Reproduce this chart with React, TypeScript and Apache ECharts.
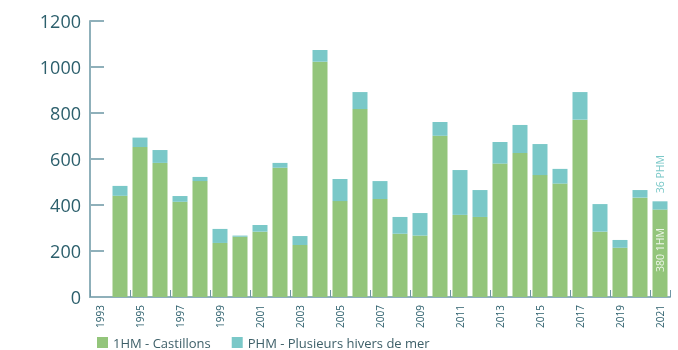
import React, { useEffect, useRef } from "react";
import * as echarts from "echarts";

const years = [
  "1993", "1994", "1995", "1996", "1997", "1998", "1999", "2000", "2001", "2002",
  "2003", "2004", "2005", "2006", "2007", "2008", "2009", "2010", "2011", "2012",
  "2013", "2014", "2015", "2016", "2017", "2018", "2019", "2020", "2021",
];
const hm1 = [
  null, 440, 652, 583, 414, 504, 235, 262, 284, 562,
  226, 1023, 417, 817, 426, 275, 267, 701, 357, 348,
  580, 626, 530, 493, 771, 284, 214, 432, 380,
];
const phm = [
  null, 43, 41, 56, 25, 18, 61, 5, 29, 21,
  39, 51, 96, 74, 78, 73, 98, 60, 195, 117,
  94, 122, 135, 64, 120, 120, 34, 33, 36,
];
const yTicks = [0, 200, 400, 600, 800, 1000, 1200];
const legendNames = ["1HM - Castillons", "PHM - Plusieurs hivers de mer"];

const GREEN = "#93c57b";
const TEAL = "#7ac8c8";
const AXIS = "#8fb0ba";
const TEXT = "#2c5f6c";
const FONT = "Open Sans";

export default function App() {
  const ref = useRef<HTMLDivElement>(null);
  useEffect(() => {
    if (!ref.current) return;
    const chart = echarts.init(ref.current, undefined, { renderer: "svg" });
    const last = years.length - 1;
    const hmData = hm1.map((v, i) =>
      i === last
        ? {
            value: v,
            label: {
              show: true,
              formatter: `${v} 1HM`,
              position: "insideBottom",
              rotate: 90,
              align: "left",
              verticalAlign: "middle",
              distance: 25,
              color: "#eef6e8",
              fontSize: 10.5,
              fontFamily: FONT,
            },
          }
        : v
    );
    const phmData = phm.map((v, i) =>
      i === last
        ? {
            value: v,
            label: {
              show: true,
              formatter: `${v} PHM`,
              position: "top",
              rotate: 90,
              align: "left",
              verticalAlign: "middle",
              distance: 8,
              color: TEAL,
              fontSize: 10.5,
              fontFamily: FONT,
            },
          }
        : v
    );
    chart.setOption({
      animation: false,
      grid: { left: 90, right: 8, top: 21, bottom: 53, containLabel: false },
      legend: {
        left: 97,
        top: 336,
        itemWidth: 11,
        itemHeight: 11,
        itemGap: 21,
        icon: "rect",
        padding: 0,
        textStyle: {
          color: "#3d5f68",
          fontSize: 13,
          lineHeight: 12,
          fontFamily: FONT,
        },
        data: legendNames,
      },
      xAxis: {
        type: "category",
        data: years,
        axisLine: { lineStyle: { color: AXIS, width: 2 } },
        axisTick: {
          show: true,
          inside: true,
          length: 7,
          alignWithLabel: false,
          lineStyle: { color: "#6f97a6", width: 1 },
        },
        axisLabel: {
          interval: 1,
          rotate: 90,
          margin: 8,
          color: TEXT,
          fontSize: 10,
          fontFamily: FONT,
        },
      },
      yAxis: {
        type: "value",
        min: yTicks[0],
        max: yTicks[yTicks.length - 1],
        interval: 200,
        axisLine: { show: true, lineStyle: { color: AXIS, width: 2 } },
        axisTick: {
          show: true,
          inside: true,
          length: 14,
          lineStyle: { color: AXIS, width: 2 },
        },
        splitLine: { show: false },
        axisLabel: {
          margin: 9,
          color: TEXT,
          fontSize: 18,
          fontFamily: FONT,
          formatter: (v: number) => String(v),
        },
      },
      series: [
        {
          name: legendNames[0],
          type: "bar",
          stack: "total",
          barWidth: 15,
          itemStyle: { color: GREEN },
          data: hmData,
        },
        {
          name: legendNames[1],
          type: "bar",
          stack: "total",
          barWidth: 15,
          itemStyle: { color: TEAL },
          data: phmData,
        },
      ],
    });
    return () => chart.dispose();
  }, []);
  return (
    <div
      ref={ref}
      style={{ position: "fixed", left: 0, top: 0, width: 678, height: 350 }}
    />
  );
}
